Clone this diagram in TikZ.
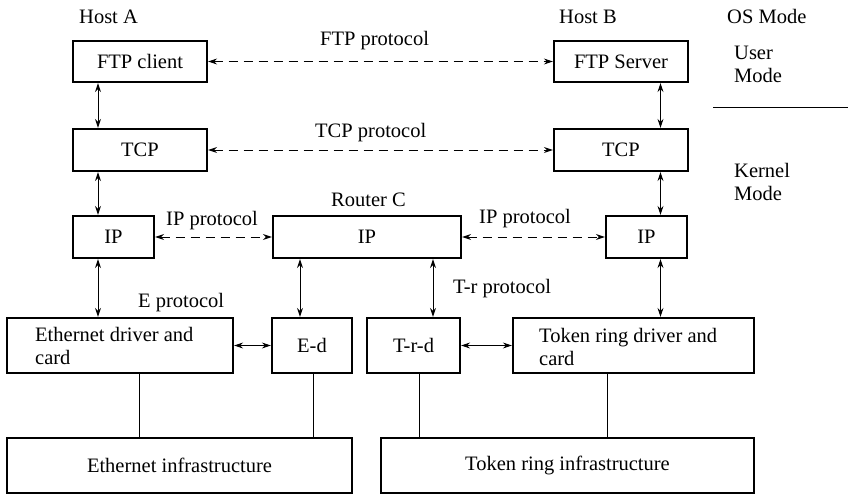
\documentclass[tikz,border=0pt]{standalone}
\usepackage{fontspec}
\setmainfont{Liberation Serif}
\usetikzlibrary{arrows.meta}
\begin{document}
\begin{tikzpicture}[x=1pt,y=-1pt,
  font=\fontsize{20.5}{23}\selectfont,
  box/.style={draw, line width=2.2pt, inner sep=0pt, align=center},
  biarrow/.style={line width=1pt, {Stealth[length=9pt,width=6pt,inset=3pt]}-{Stealth[length=9pt,width=6pt,inset=3pt]}},
  proto/.style={biarrow, dash pattern=on 9pt off 6pt},
  link/.style={line width=1pt},
  lbl/.style={anchor=base west, inner sep=0pt}]
\useasboundingbox (0,0) rectangle (848,495);

% protocol stacks
\node[box, minimum width=134, minimum height=41] (ftpA) at (140,61.5) {FTP client};
\node[box, minimum width=134, minimum height=42] (tcpA) at (140,150) {TCP};
\node[box, minimum width=81,  minimum height=42] (ipA)  at (113.5,237) {IP};
\node[box, minimum width=188, minimum height=42] (ipC)  at (367,237) {IP};
\node[box, minimum width=81,  minimum height=42] (ipB)  at (646.5,237) {IP};
\node[box, minimum width=134, minimum height=41] (ftpB) at (621,61.5) {FTP Server};
\node[box, minimum width=134, minimum height=42] (tcpB) at (621,150) {TCP};

% drivers
\node[box, minimum width=226, minimum height=55] (ethdrv) at (120,345.5) {};
\node[box, minimum width=80,  minimum height=55] (ed)     at (312,345.5) {E-d};
\node[box, minimum width=93,  minimum height=55] (trd)    at (413.5,345.5) {T-r-d};
\node[box, minimum width=241, minimum height=55] (trdrv)  at (633.5,345.5) {};
% two-line labels: the base anchor sits on the last line
\node[lbl, align=left] (ethtxt) at (35,364) {Ethernet driver and\\card};
\node[lbl, align=left] (trtxt)  at (539,365) {Token ring driver and\\card};

% infrastructure
\node[box, minimum width=345, minimum height=55] (ethinf) at (179.5,465.5) {Ethernet infrastructure};
\node[box, minimum width=373, minimum height=55] (trinf)  at (567.5,465.5) {Token ring infrastructure};

% column positions of the vertical connectors
\coordinate (xA) at (98,0);
\coordinate (xC1) at (300,0);
\coordinate (xC2) at (433,0);
\coordinate (xB) at (660.5,0);
\coordinate (xE1) at (139,0);
\coordinate (xE2) at (313,0);
\coordinate (xT1) at (419,0);
\coordinate (xT2) at (607,0);

% vertical interfaces
\draw[biarrow] (ftpA.south -| xA) -- (tcpA.north -| xA);
\draw[biarrow] (tcpA.south -| xA) -- (ipA.north -| xA);
\draw[biarrow] (ipA.south -| xA) -- (ethdrv.north -| xA);
\draw[biarrow] (ftpB.south -| xB) -- (tcpB.north -| xB);
\draw[biarrow] (tcpB.south -| xB) -- (ipB.north -| xB);
\draw[biarrow] (ipB.south -| xB) -- (trdrv.north -| xB);
\draw[biarrow] (ipC.south -| xC1) -- (ed.north -| xC1);
\draw[biarrow] (ipC.south -| xC2) -- (trd.north -| xC2);

% driver links
\draw[biarrow] (ethdrv.east) -- (ed.west);
\draw[biarrow] (trd.east) -- (trdrv.west);

% attachments to the media
\draw[link] (ethdrv.south -| xE1) -- (ethinf.north -| xE1);
\draw[link] (ed.south -| xE2) -- (ethinf.north -| xE2);
\draw[link] (trd.south -| xT1) -- (trinf.north -| xT1);
\draw[link] (trdrv.south -| xT2) -- (trinf.north -| xT2);

% peer protocols
\draw[proto] (ftpA.east) -- (ftpB.west);
\draw[proto] (tcpA.east) -- (tcpB.west);
\draw[proto] (ipA.east) -- (ipC.west);
\draw[proto] (ipC.east) -- (ipB.west);

% labels
\node[lbl] (hostA)  at (79,24) {Host A};
\node[lbl] (hostB)  at (559,24) {Host B};
\node[lbl] (osmode) at (727,24) {OS Mode};
\node[lbl, align=left] (user) at (734,82) {User\\Mode};
\node[lbl, align=left] (kern) at (734,200) {Kernel\\Mode};
\node[lbl] (ftpp)  at (320,46) {FTP protocol};
\node[lbl] (tcpp)  at (315,137) {TCP protocol};
\node[lbl] (router) at (331,206) {Router C};
\node[lbl] (ipp1)  at (166,225) {IP protocol};
\node[lbl] (ipp2)  at (479,223) {IP protocol};
\node[lbl] (ep)    at (138,307) {E protocol};
\node[lbl] (trp)   at (453,293) {T-r protocol};

% user/kernel boundary
\coordinate (sepL) at (713,107);
\coordinate (sepR) at (848,107);
\draw[link] (sepL) -- (sepR);
\end{tikzpicture}
\end{document}
